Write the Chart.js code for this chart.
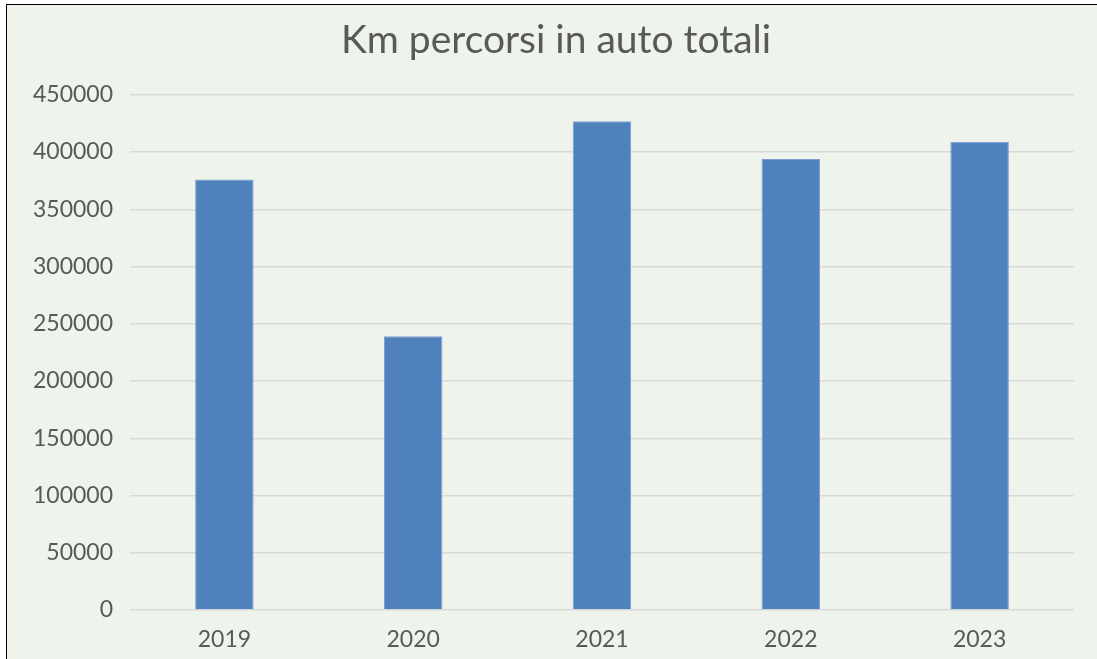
<!DOCTYPE html>
<html>
<head>
<meta charset="utf-8">
<script src="https://cdn.jsdelivr.net/npm/chart.js@4"></script>
<style>
  html, body { margin: 0; padding: 0; background: #ffffff; overflow: hidden; width: 1097px; height: 659px; }
  #box { position: absolute; left: 6px; top: 4px; width: 1091px; height: 655px;
         border-left: 1.5px solid #000; border-top: 1.5px solid #000; background: #EEF3EC; }
  #wrap { position: absolute; left: 0; top: 0; width: 1090px; height: 655px; }
</style>
</head>
<body>
<div id="box"><div id="wrap"><canvas id="c" width="1090" height="655"></canvas></div></div>
<script>
const categories = ['2019', '2020', '2021', '2022', '2023'];
const kmValues = [376000, 239000, 427000, 394000, 409000];
const yTicks = [0, 50000, 100000, 150000, 200000, 250000, 300000, 350000, 400000, 450000];
const chartTitle = 'Km percorsi in auto totali';

const FONT = "Lato, 'Open Sans', sans-serif";
const H = 655;

// Shift the title block so it is centred where the reference title sits
const titleShift = {
  id: 'titleShift',
  afterLayout(chart) {
    if (chart.titleBlock) {
      chart.titleBlock.left = 31;
    }
  }
};

new Chart(document.getElementById('c'), {
  type: 'bar',
  data: {
    labels: categories,
    datasets: [{
      data: kmValues,
      backgroundColor: '#4F81BD',
      borderColor: '#7D9FD0',
      borderWidth: 1,
      barPercentage: 0.31,
      categoryPercentage: 1.0
    }]
  },
  plugins: [titleShift],
  options: {
    responsive: false,
    animation: false,
    devicePixelRatio: 1,
    layout: { padding: { left: 0, right: 23, top: 0, bottom: 0 } },
    plugins: {
      legend: { display: false },
      tooltip: { enabled: false },
      title: {
        display: true,
        text: chartTitle,
        color: '#595959',
        font: { family: FONT, size: 39, weight: 'normal' },
        padding: { top: 12, bottom: 31 }
      }
    },
    scales: {
      x: {
        grid: { display: false },
        border: { display: false },
        ticks: { color: '#595959', font: { family: FONT, size: 23 }, padding: 8 },
        afterFit: (s) => { s.height = H - 605; }
      },
      y: {
        min: 0,
        max: 450000,
        afterBuildTicks: (s) => { s.ticks = yTicks.map(v => ({ value: v })); },
        grid: { color: '#D9D9D9', lineWidth: 1.5, drawTicks: false },
        border: { display: false },
        ticks: {
          color: '#595959', font: { family: FONT, size: 23 }, padding: 17,
          callback: (v) => String(v)
        },
        afterFit: (s) => { s.width = 123; }
      }
    }
  }
});
</script>
</body>
</html>
